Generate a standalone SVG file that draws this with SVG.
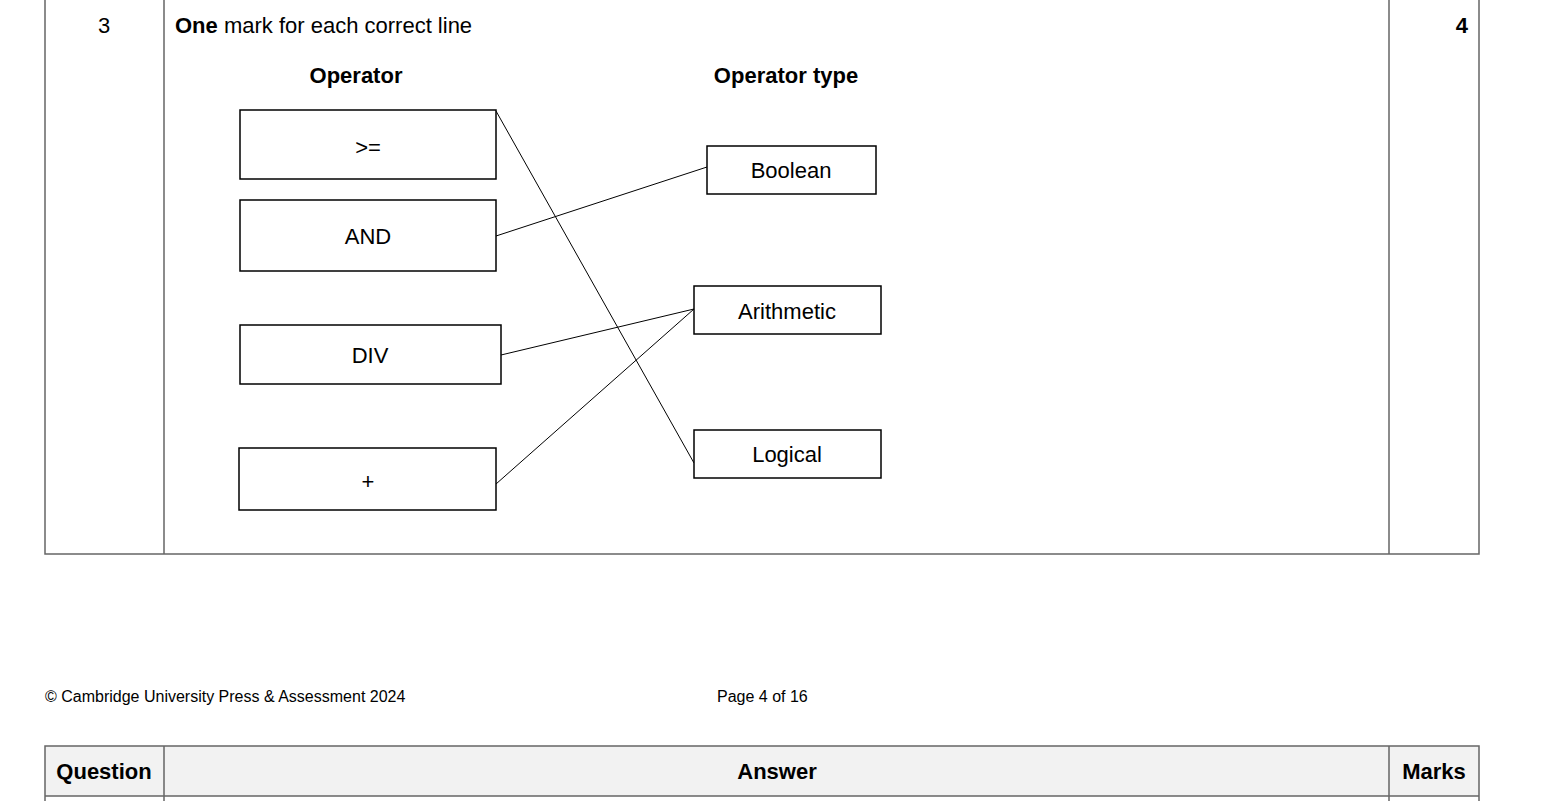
<svg xmlns="http://www.w3.org/2000/svg" width="1568" height="801" viewBox="0 0 1568 801">
<style>
text{font-family:"Liberation Sans",Arial,sans-serif;fill:#000}
.t{font-size:22px}
.b{font-weight:bold}
.m{text-anchor:middle}
.grid{stroke:#666;stroke-width:1.5;fill:none}
.box{fill:#fff;stroke:#000;stroke-width:1.5}
.con line{stroke:#000;stroke-width:1}
</style>
<rect width="1568" height="801" fill="#fff"/>
<g id="table">
<path class="grid" d="M45 0V554H1479V0M164 0V554M1389 0V554"/>
<text class="t m" x="104" y="33">3</text>
<text class="t" x="175" y="33"><tspan class="b">One</tspan> mark for each correct line</text>
<text class="t b" x="1468" y="33" text-anchor="end">4</text>
<text class="t b m" x="356" y="83">Operator</text>
<text class="t b m" x="786" y="83">Operator type</text>
</g>
<g class="con" id="connectors">
<line x1="496" y1="111" x2="694" y2="463"/>
<line x1="496" y1="236" x2="707" y2="167"/>
<line x1="501" y1="355" x2="694" y2="309"/>
<line x1="496" y1="484" x2="694" y2="309"/>
</g>
<g id="op-ge"><rect class="box" x="240" y="110" width="256" height="69"/><text class="t m" x="368" y="155">&gt;=</text></g>
<g id="op-and"><rect class="box" x="240" y="200" width="256" height="71"/><text class="t m" x="368" y="244">AND</text></g>
<g id="op-div"><rect class="box" x="240" y="325" width="261" height="59"/><text class="t m" x="370" y="363">DIV</text></g>
<g id="op-plus"><rect class="box" x="239" y="448" width="257" height="62"/><text class="t m" x="368" y="489">+</text></g>
<g id="type-boolean"><rect class="box" x="707" y="146" width="169" height="48"/><text class="t m" x="791" y="178">Boolean</text></g>
<g id="type-arith"><rect class="box" x="694" y="286" width="187" height="48"/><text class="t m" x="787" y="319">Arithmetic</text></g>
<g id="type-logical"><rect class="box" x="694" y="430" width="187" height="48"/><text class="t m" x="787" y="462">Logical</text></g>
<g id="footer">
<text x="45" y="702" font-size="16">© Cambridge University Press &amp; Assessment 2024</text>
<text x="717" y="702" font-size="16">Page 4 of 16</text>
</g>
<g id="header">
<rect x="45" y="746" width="1434" height="50" fill="#f2f2f2"/>
<path class="grid" d="M45 801V746H1479V801M45 796H1479M164 746V801M1389 746V801"/>
<text class="t b m" x="104" y="779">Question</text>
<text class="t b m" x="777" y="779">Answer</text>
<text class="t b m" x="1434" y="779">Marks</text>
</g>
</svg>
